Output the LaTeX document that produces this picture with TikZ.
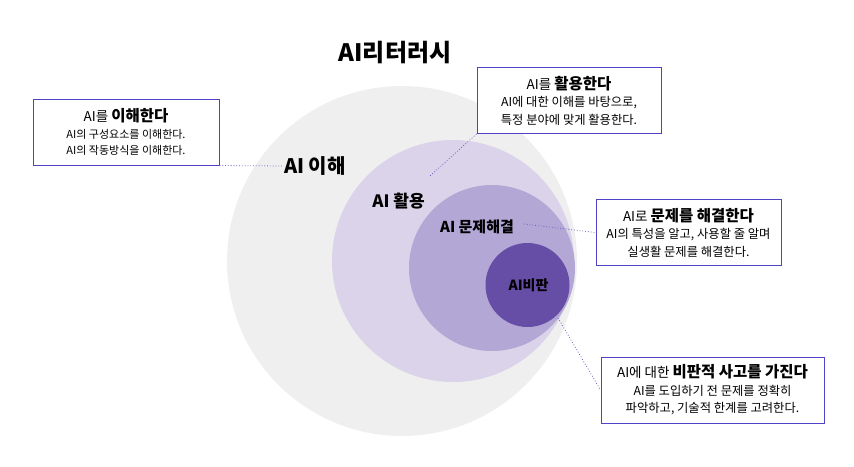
\documentclass[tikz,border=0pt]{standalone}
\usepackage{fontspec}
\setmainfont{Noto Sans CJK KR}
\def\litcircle{(402,261) circle (175)}
\def\usecircle{(453,261) circle (121)}
\def\solvecircle{(492,268) circle (83)}
\def\critcircle{(527.5,285) circle (42)}
\definecolor{lit area}{HTML}{EFEFEF}
\definecolor{use area}{HTML}{DAD3E9}
\definecolor{solve area}{HTML}{B3A7D5}
\definecolor{crit area}{HTML}{664DA6}
\definecolor{box edge}{HTML}{5043C8}
\definecolor{link line}{HTML}{6B5DC4}
\newcommand\boxhead[2]{{\fontsize{13.5}{17}\selectfont #1 \textbf{\fontsize{15.5}{17}\selectfont #2}}}
\tikzset{
  ringlabel/.style={font=\bfseries\fontsize{15}{15}\selectfont, inner sep=2pt},
  infobox/.style={draw=box edge, line width=1pt, fill=white, align=center,
    minimum height=66, inner sep=0pt, font=\fontsize{12.3}{17.5}\selectfont},
  link/.style={draw=link line, dotted, line width=0.8pt}
}
\begin{document}
\begin{tikzpicture}[x=1pt, y=-1pt]
    \useasboundingbox (0,0) rectangle (854,466);
    \fill[lit area] \litcircle;
    \fill[use area] \usecircle;
    \fill[solve area] \solvecircle;
    \fill[crit area] \critcircle;
    \node[font=\bfseries\fontsize{24}{24}\selectfont] (title) at (395,53) {AI리터러시};
    \node[ringlabel, font=\bfseries\fontsize{20}{20}\selectfont] (knowlbl) at (315,166) {AI 이해};
    \node[ringlabel, font=\bfseries\fontsize{17}{17}\selectfont] (uselbl) at (398.5,201) {AI 활용};
    \node[ringlabel] (solvelbl) at (477,227) {AI 문제해결};
    \node[ringlabel, font=\bfseries\fontsize{14}{14}\selectfont] (critlbl) at (528.5,285.5) {AI비판};
    % boxes
    \node[infobox, minimum width=186, font=\fontsize{11}{16.5}\selectfont] (knowbox) at (126,132)
      {\boxhead{AI를}{이해한다}\\ AI의 구성요소를 이해한다.\\ AI의 작동방식을 이해한다.};
    \node[infobox, minimum width=184] (usebox) at (569,100.5)
      {\boxhead{AI를}{활용한다}\\ AI에 대한 이해를 바탕으로,\\ 특정 분야에 맞게 활용한다.};
    \node[infobox, minimum width=185] (solvebox) at (688.5,232.5)
      {\boxhead{AI로}{문제를 해결한다}\\ AI의 특성을 알고, 사용할 줄 알며\\ 실생활 문제를 해결한다.};
    \node[infobox, minimum width=223] (critbox) at (712.5,390)
      {\boxhead{AI에 대한}{비판적 사고를 가진다}\\ AI를 도입하기 전 문제를 정확히\\ 파악하고, 기술적 한계를 고려한다.};
    % links
    \coordinate (usetip) at (430,176);
    \coordinate (solvetip) at (524,224);
    \coordinate (critedge) at (558,318);
    \draw[link] (knowbox.south east) -- (knowlbl.west);
    \draw[link] (usebox.south west) -- (usetip);
    \draw[link] (solvetip) -- (solvebox.west);
    \draw[link] (critedge) -- (critbox.west);
\end{tikzpicture}
\end{document}
